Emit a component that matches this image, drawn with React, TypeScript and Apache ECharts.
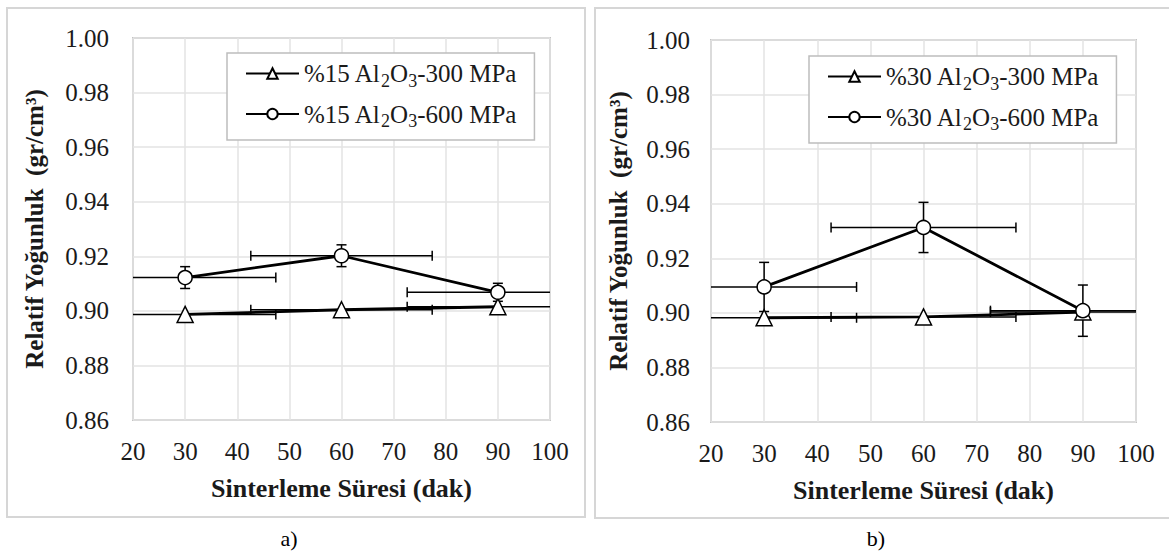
import React, { useEffect, useRef } from "react";
import * as echarts from "echarts";

const times = [30, 60, 90];
const xErr = [17.4, 17.4, 17.4];

const a300 = [0.8987, 0.9004, 0.9015];
const a300Err = [0, 0, 0];
const a600 = [0.9122, 0.9202, 0.9068];
const a600Err = [0.004, 0.004, 0.0033];

const b300 = [0.8982, 0.8985, 0.9003];
const b300Err = [0, 0, 0];
const b600 = [0.9095, 0.9313, 0.9008];
const b600Err = [0.009, 0.0092, 0.0094];

const namesA = ["%15 Al2O3-300 MPa", "%15 Al2O3-600 MPa"];
const namesB = ["%30 Al2O3-300 MPa", "%30 Al2O3-600 MPa"];

const FONT = "'Liberation Serif', 'Times New Roman', 'DejaVu Serif', serif";
const TXT = "#1a1a1a";

function errData(ys: number[], yErr: number[]) {
  return times.map((t, i) => [t, ys[i], xErr[i], yErr[i]]);
}

function errSeries(idx: number, ys: number[], yErr: number[]) {
  return {
    type: "custom",
    xAxisIndex: idx,
    yAxisIndex: idx,
    z: 1,
    silent: true,
    encode: { x: 0, y: 1 },
    data: errData(ys, yErr),
    renderItem: (params: any, api: any) => {
      const x = api.value(0);
      const y = api.value(1);
      const xe = api.value(2);
      const ye = api.value(3);
      const style = { stroke: "#000", lineWidth: 1.5 };
      const children: any[] = [];
      const xl = Math.max(20, x - xe);
      const xr = Math.min(100, x + xe);
      const pl = api.coord([xl, y]);
      const pr = api.coord([xr, y]);
      children.push({ type: "line", shape: { x1: pl[0], y1: pl[1], x2: pr[0], y2: pr[1] }, style });
      const cap = 5;
      if (x - xe >= 20) children.push({ type: "line", shape: { x1: pl[0], y1: pl[1] - cap, x2: pl[0], y2: pl[1] + cap }, style });
      if (x + xe <= 100) children.push({ type: "line", shape: { x1: pr[0], y1: pr[1] - cap, x2: pr[0], y2: pr[1] + cap }, style });
      if (ye > 0) {
        const pt = api.coord([x, y + ye]);
        const pb = api.coord([x, y - ye]);
        children.push({ type: "line", shape: { x1: pt[0], y1: pt[1], x2: pb[0], y2: pb[1] }, style });
        children.push({ type: "line", shape: { x1: pt[0] - cap, y1: pt[1], x2: pt[0] + cap, y2: pt[1] }, style });
        children.push({ type: "line", shape: { x1: pb[0] - cap, y1: pb[1], x2: pb[0] + cap, y2: pb[1] }, style });
      }
      return { type: "group", children };
    },
  };
}

function lineSeries(idx: number, name: string, ys: number[], symbol: string, size: number) {
  return {
    type: "line",
    name,
    xAxisIndex: idx,
    yAxisIndex: idx,
    z: 3,
    data: times.map((t, i) => [t, ys[i]]),
    symbol,
    symbolSize: size,
    showSymbol: true,
    lineStyle: { color: "#000", width: 2.8 },
    itemStyle: { color: "#fff", borderColor: "#000", borderWidth: 1.5 },
  };
}

function xAxis(idx: number) {
  return {
    type: "value",
    gridIndex: idx,
    min: 20,
    max: 100,
    interval: 10,
    axisLine: { show: false },
    axisTick: { show: false },
    splitLine: { show: true, lineStyle: { color: "#e3e3e3", width: 1.5 } },
    axisLabel: { fontFamily: FONT, fontSize: 25, color: TXT, margin: 19 },
    name: "Sinterleme Süresi (dak)",
    nameLocation: "middle",
    nameGap: 55,
    nameTextStyle: { fontFamily: FONT, fontSize: 26, fontWeight: "bold", color: TXT },
  };
}

function yAxis(idx: number, gap: number, margin: number) {
  return {
    type: "value",
    gridIndex: idx,
    min: 0.86,
    max: 1.0,
    interval: 0.02,
    axisLine: { show: false },
    axisTick: { show: false },
    splitLine: { show: true, lineStyle: { color: "#e3e3e3", width: 1.5 } },
    axisLabel: {
      fontFamily: FONT,
      fontSize: 25,
      color: TXT,
      margin,
      formatter: (v: number) => v.toFixed(2),
    },
    name: "Relatif Yoğunluk  (gr/cm³)",
    nameLocation: "middle",
    nameGap: gap,
    nameRotate: 90,
    nameTextStyle: { fontFamily: FONT, fontSize: 25, fontWeight: "bold", color: TXT },
  };
}

function legend(names: string[], left: number, top: number) {
  return {
    data: names,
    orient: "vertical",
    left,
    top,
    padding: [8, 18, 10, 18],
    itemGap: 12,
    itemWidth: 53,
    itemHeight: 13,
    backgroundColor: "#fff",
    borderColor: "#bdbdbd",
    borderWidth: 1.5,
    formatter: (n: string) => n.replace("Al2O3", "Al{sub|2}O{sub|3}"),
    textStyle: {
      fontFamily: FONT,
      fontSize: 25,
      color: TXT,
      rich: {
        sub: { fontFamily: FONT, fontSize: 18, color: TXT, padding: [14, 0, 0, 0] },
      },
    },
  };
}

export default function App() {
  const ref = useRef<HTMLDivElement>(null);
  useEffect(() => {
    document.body.style.margin = "0";
    const chart = echarts.init(ref.current!, null, { renderer: "svg" });
    chart.setOption({
      animation: false,
      backgroundColor: "#fff",
      grid: [
        { left: 133, top: 38, width: 417, height: 382, show: true, borderColor: "#c4c4c4", borderWidth: 2, backgroundColor: "transparent" },
        { left: 711, top: 40, width: 425, height: 382, show: true, borderColor: "#c4c4c4", borderWidth: 2, backgroundColor: "transparent" },
      ],
      xAxis: [xAxis(0), xAxis(1)],
      yAxis: [yAxis(0, 86, 24), yAxis(1, 80, 21)],
      legend: [legend(namesA, 227, 53), legend(namesB, 809, 56)],
      series: [
        errSeries(0, a300, a300Err),
        errSeries(0, a600, a600Err),
        lineSeries(0, namesA[0], a300, "triangle", 16),
        lineSeries(0, namesA[1], a600, "circle", 14),
        errSeries(1, b300, b300Err),
        errSeries(1, b600, b600Err),
        lineSeries(1, namesB[0], b300, "triangle", 16),
        lineSeries(1, namesB[1], b600, "circle", 14),
      ],
      graphic: [
        { type: "rect", z: -10, shape: { x: 7, y: 8, width: 578, height: 509 }, style: { fill: "none", stroke: "#d6d6d6", lineWidth: 2 } },
        { type: "rect", z: -10, shape: { x: 595, y: 8, width: 580, height: 510 }, style: { fill: "none", stroke: "#d6d6d6", lineWidth: 2 } },
        { type: "text", x: 289, y: 538, style: { text: "a)", fontFamily: FONT, fontSize: 22, fill: "#000", align: "center", verticalAlign: "middle" } },
        { type: "text", x: 876, y: 538, style: { text: "b)", fontFamily: FONT, fontSize: 22, fill: "#000", align: "center", verticalAlign: "middle" } },
      ],
    });
    return () => chart.dispose();
  }, []);
  return <div ref={ref} style={{ width: 1169, height: 554 }} />;
}
